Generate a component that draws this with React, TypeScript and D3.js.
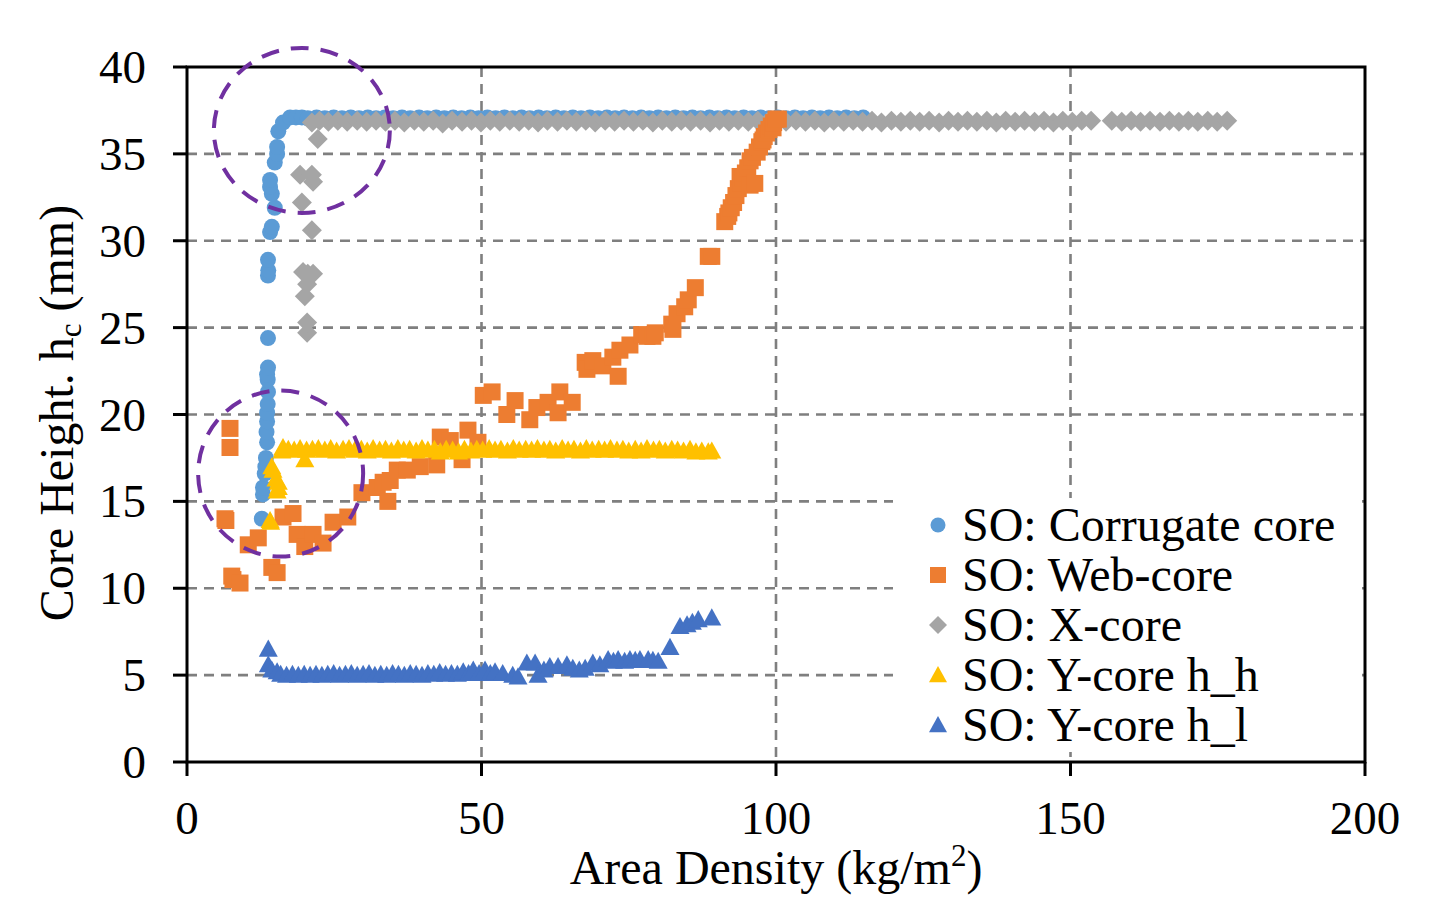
import React from "react";
import * as d3 from "d3";

const xTicks = [0, 50, 100, 150, 200];
const yTicks = [0, 5, 10, 15, 20, 25, 30, 35, 40];

const corrugate: [number, number][] = [
  [12.7,14.0],[12.9,15.4],[12.9,15.8],[13.2,16.6],[13.3,17.0],[13.4,17.5],[13.6,18.4],[13.5,19.0],[13.6,19.6],[13.6,20.1],
  [13.7,20.6],[13.75,21.3],[13.7,22.0],[13.6,22.3],[13.75,22.7],[13.75,24.4],[13.75,28.0],[13.8,28.3],[13.75,28.9],[14.1,30.5],
  [14.4,30.8],[14.9,31.9],[14.4,32.7],[14.1,33.1],[14.1,33.5],[14.9,34.5],[15.3,35.0],[15.3,35.4],[15.5,36.3],[16.3,36.8],
  [17.5,37.1],[18.5,37.1],[19.5,37.1],[20.5,37.05],[22,37.1],[23.4,37.05],[24.9,37.1],[26.3,37.05],[27.8,37.1],[29.2,37.05],
  [30.7,37.1],[32.1,37.05],[33.6,37.1],[35,37.05],[36.5,37.1],[37.9,37.05],[39.4,37.1],[40.8,37.05],[42.3,37.1],[43.7,37.05],
  [45.2,37.1],[46.6,37.05],[48.1,37.1],[49.5,37.05],[51,37.1],[52.4,37.05],[53.9,37.1],[55.3,37.05],[56.8,37.1],[58.2,37.05],
  [59.7,37.1],[61.1,37.05],[62.6,37.1],[64,37.05],[65.5,37.1],[66.9,37.05],[68.4,37.1],[69.8,37.05],[71.3,37.1],[72.7,37.05],
  [74.2,37.1],[75.6,37.05],[77.1,37.1],[78.5,37.05],[80,37.1],[81.4,37.05],[82.9,37.1],[84.3,37.05],[85.8,37.1],[87.2,37.05],
  [88.7,37.1],[90.1,37.05],[91.6,37.1],[93,37.05],[94.5,37.1],[95.9,37.05],[97.4,37.1],[98.8,37.05],[100.3,37.1],[101.7,37.05],
  [103.2,37.1],[104.6,37.05],[106.1,37.1],[107.5,37.05],[109,37.1],[110.4,37.05],[111.9,37.1],[113.3,37.05],[114.8,37.1]
];

const webCore: [number, number][] = [
  [7.3,19.2],[7.3,18.1],[6.45,14.0],[6.6,13.9],[7.8,10.5],[7.6,10.7],[9.0,10.3],[10.4,12.5],[12.1,12.9],[14.4,11.2],
  [15.3,10.9],[16.3,14.1],[18.0,14.3],[18.7,13.1],[20.0,12.4],[21.4,13.1],[23.1,12.6],[24.8,13.8],[27.3,14.1],[29.7,15.5],
  [32.3,15.8],[33.3,16.1],[34.1,15.0],[34.5,16.2],[35.7,16.8],[37.4,16.8],[39.6,17.0],[42.4,17.1],[43.0,18.7],[44.7,18.5],
  [46.7,17.4],[47.7,19.1],[49.4,18.4],[50.3,21.1],[51.8,21.3],[54.3,20.0],[55.7,20.8],[58.2,19.7],[59.4,20.4],[61.3,20.7],
  [63.0,20.1],[63.3,21.3],[65.4,20.7],[67.6,23.0],[67.9,22.6],[68.9,23.1],[70.6,22.8],[72.3,23.3],[73.2,22.2],[73.5,23.7],
  [75.2,24.0],[77.2,24.6],[78.1,24.5],[79.1,24.5],[79.5,24.7],[82.3,25.2],[82.5,24.9],[83.2,25.8],[84.5,26.2],[85.1,26.6],
  [86.3,27.3],[88.5,29.1],[89.1,29.1],[91.3,31.1],[91.8,31.4],[92.0,31.6],[92.4,31.9],[92.8,32.2],[93.2,32.6],[93.6,33.0],
  [93.9,33.7],[94.0,33.3],[94.4,33.6],[94.8,33.9],[95.2,34.2],[95.6,34.6],[95.6,33.2],[96.0,34.8],[96.4,33.3],[96.8,35.1],
  [97.2,35.4],[97.6,35.7],[97.8,35.8],[98.0,36.0],[98.4,36.2],[98.8,36.4],[99.2,36.6],[99.5,36.5],[99.6,36.8],[100.0,37.0],
  [100.4,37.0]
];

const xCore: [number, number][] = [
  [20.4,24.7],[20.4,25.3],[20.0,26.8],[20.4,27.5],[20.5,28.1],[21.4,28.1],[19.7,28.2],[21.2,30.6],[19.5,32.2],[21.4,33.4],
  [19.2,33.8],[21.2,33.8],[22.2,35.85],[21.2,36.8],[22.5,36.9],[24.0,36.85],[25.6,36.9],[27.2,36.85],[28.9,36.9],[30.5,36.85],
  [32.1,36.9],[33.7,36.85],[35.3,36.9],[36.9,36.8],[38.6,36.9],[40.2,36.85],[41.8,36.9],[43.4,36.75],[45.0,36.9],[46.7,36.85],
  [48.3,36.9],[49.9,36.8],[51.5,36.9],[53.1,36.85],[54.8,36.9],[56.4,36.85],[58.0,36.9],[59.6,36.8],[61.2,36.9],[62.9,36.85],
  [64.5,36.9],[66.1,36.85],[67.7,36.9],[69.3,36.8],[71.0,36.9],[72.6,36.85],[74.2,36.9],[75.8,36.85],[77.4,36.9],[79.1,36.8],
  [80.7,36.9],[82.3,36.85],[83.9,36.9],[85.5,36.85],[87.2,36.9],[88.8,36.8],[90.4,36.9],[92.0,36.85],[93.6,36.9],[95.3,36.85],
  [96.9,36.9],[98.5,36.8],[100.1,36.9],[101.7,36.85],[103.4,36.9],[105.0,36.85],[106.6,36.9],[108.2,36.8],[109.8,36.9],[111.5,36.85],
  [113.1,36.9],[114.7,36.85],[116.3,36.9],[117.9,36.8],[119.6,36.9],[121.2,36.85],[122.8,36.9],[124.4,36.85],[126.0,36.9],[127.7,36.8],
  [129.3,36.9],[130.9,36.85],[132.5,36.9],[134.1,36.85],[135.8,36.9],[137.4,36.8],[139.0,36.9],[140.6,36.85],[142.2,36.9],[143.9,36.85],
  [145.5,36.9],[147.1,36.8],[148.7,36.9],[150.3,36.85],[151.9,36.9],[153.5,36.9],[157.0,36.9],[158.7,36.85],[160.3,36.9],[161.9,36.85],
  [163.5,36.9],[165.2,36.85],[166.8,36.9],[168.4,36.85],[170.0,36.9],[171.6,36.85],[173.3,36.9],[174.9,36.85],[176.6,36.9]
];

const yCoreHH: [number, number][] = [
  [14.1,13.9],[14.2,13.8],[15.5,15.8],[15.3,15.6],[15.5,16.1],[15.1,16.3],[14.6,16.8],[14.4,17.0],[16.1,17.9],[16.3,18.1],
  [20.0,17.4],[17.2,18.0],[18.2,17.95],[19.2,18.05],[20.3,17.95],[21.3,18.0],[22.3,18.05],[23.4,17.95],[24.4,18.05],[25.4,17.9],
  [26.5,18.0],[27.5,18.05],[28.5,17.95],[29.6,18.0],[30.6,17.9],[31.6,18.05],[32.7,17.95],[33.7,18.0],[34.7,17.9],[35.8,18.05],
  [36.8,17.95],[37.8,18.0],[38.9,17.9],[39.9,18.05],[40.9,17.95],[42.0,18.0],[43.0,17.85],[44.0,18.0],[45.1,17.95],[46.1,17.85],
  [47.1,18.0],[48.2,17.9],[49.2,18.0],[50.2,17.95],[51.3,18.05],[52.3,17.95],[53.3,18.0],[54.4,17.9],[55.4,18.05],[56.4,17.95],
  [57.5,18.0],[58.5,17.95],[59.5,18.05],[60.6,17.95],[61.6,18.0],[62.6,17.9],[63.7,18.05],[64.7,17.95],[65.7,18.0],[66.8,17.9],
  [67.8,18.05],[68.8,17.95],[69.9,18.0],[70.9,17.95],[71.9,18.05],[73.0,17.95],[74.0,18.0],[75.0,17.9],[76.1,18.0],[77.1,17.9],
  [78.1,18.05],[79.2,17.95],[80.2,18.0],[81.2,17.9],[82.3,18.0],[83.3,17.95],[84.3,17.9],[85.4,18.0],[86.4,17.85],[87.4,17.9],
  [88.5,17.85],[89.1,17.9]
];

const yCoreHL: [number, number][] = [
  [13.8,6.5],[13.8,5.6],[14.4,5.3],[15.3,5.2],[15.9,5.05],[16.9,5.0],[17.9,5.05],[18.9,5.0],[19.9,5.05],[20.9,5.0],
  [21.9,5.05],[22.9,5.0],[23.9,5.05],[24.9,5.1],[25.9,5.0],[26.9,5.05],[27.9,5.1],[28.9,5.0],[29.9,5.05],[30.9,5.1],
  [31.9,5.0],[32.9,5.05],[33.9,5.0],[34.9,5.1],[35.9,5.05],[36.9,5.0],[37.9,5.1],[38.9,5.05],[39.9,5.0],[40.9,5.1],
  [41.9,5.05],[42.9,5.15],[43.9,5.05],[44.9,5.1],[45.9,5.05],[46.9,5.2],[47.8,5.1],[48.6,5.3],[49.6,5.1],[50.6,5.3],
  [51.5,5.1],[52.3,5.2],[53.6,5.1],[55.3,5.0],[56.2,4.9],[57.7,5.7],[59.1,5.7],[59.6,5.0],[60.6,5.3],[61.6,5.5],
  [63.0,5.5],[64.5,5.6],[65.5,5.4],[66.6,5.3],[67.6,5.4],[68.9,5.7],[70.1,5.6],[71.5,5.9],[72.4,5.8],[73.2,5.9],
  [74.3,5.8],[75.2,5.9],[76.1,5.85],[76.9,5.9],[78.3,5.9],[79.1,5.85],[80.0,5.8],[82.0,6.6],[83.7,7.8],[84.9,7.9],
  [85.8,8.05],[86.8,8.2],[89.1,8.3]
];

const seriesNames = ["SO: Corrugate core", "SO: Web-core", "SO: X-core", "SO: Y-core h_h", "SO: Y-core h_l"];
const seriesColors = ["#5B9BD5", "#ED7D31", "#A5A5A5", "#FFC000", "#4472C4"];

// annotation ellipses (data-space centres)
const highlights = [
  { cx: 19.5, cy: 36.35, rx: 88, ry: 82.5 },
  { cx: 15.9, cy: 16.6, rx: 82.5, ry: 83 },
];

const W = 1429, H = 901;
const L = 187, R = 1365, T = 67, B = 762;
const FONT = "'Liberation Serif', 'Times New Roman', serif";

type Shape = "circle" | "square" | "diamond" | "triangle";

function markerPath(shape: Shape, s: number): string {
  const h = s / 2;
  switch (shape) {
    case "circle":
      return `M${h},0A${h},${h} 0 1,1 ${-h},0A${h},${h} 0 1,1 ${h},0Z`;
    case "square":
      return `M${-h},${-h}H${h}V${h}H${-h}Z`;
    case "diamond":
      return `M0,${-h}L${h},0L0,${h}L${-h},0Z`;
    case "triangle":
      return `M0,${-h}L${h},${h * 0.8}L${-h},${h * 0.8}Z`;
  }
}

export default function App() {
  const x = d3.scaleLinear().domain([0, 200]).range([L, R]);
  const y = d3.scaleLinear().domain([0, 40]).range([B, T]);

  const layers: { data: [number, number][]; shape: Shape; size: number; color: string }[] = [
    { data: corrugate, shape: "circle", size: 16, color: seriesColors[0] },
    { data: xCore, shape: "diamond", size: 20, color: seriesColors[2] },
    { data: webCore, shape: "square", size: 17, color: seriesColors[1] },
    { data: yCoreHH, shape: "triangle", size: 19, color: seriesColors[3] },
    { data: yCoreHL, shape: "triangle", size: 19, color: seriesColors[4] },
  ];

  const legendShapes: Shape[] = ["circle", "square", "diamond", "triangle", "triangle"];
  const legendSizes = [15, 16, 18, 18, 18];

  return (
    <svg width={W} height={H} style={{ position: "absolute", left: 0, top: 0, background: "#fff" }} fontFamily={FONT}>
      <rect x={0} y={0} width={W} height={H} fill="#fff" />
      {/* gridlines */}
      {yTicks.filter((t) => t > 0 && t < 40).map((t) => (
        <line key={"gy" + t} x1={L} x2={R} y1={y(t)} y2={y(t)} stroke="#7F7F7F" strokeWidth={2.6} strokeDasharray="10,7" />
      ))}
      {xTicks.filter((t) => t > 0 && t < 200).map((t) => (
        <line key={"gx" + t} x1={x(t)} x2={x(t)} y1={T} y2={B} stroke="#7F7F7F" strokeWidth={2.6} strokeDasharray="10,7" />
      ))}
      {/* legend background */}
      <rect x={893} y={498} width={469} height={254} fill="#fff" />
      {/* data */}
      {layers.map((layer, i) => (
        <g key={"s" + i} fill={layer.color}>
          {layer.data.map((d, j) => (
            <path key={j} d={markerPath(layer.shape, layer.size)} transform={`translate(${x(d[0])},${y(d[1])})`} />
          ))}
        </g>
      ))}
      {/* frame */}
      <rect x={L} y={T} width={R - L} height={B - T} fill="none" stroke="#000" strokeWidth={3} />
      {/* ticks */}
      {yTicks.map((t) => (
        <g key={"yt" + t}>
          <line x1={L - 14} x2={L} y1={y(t)} y2={y(t)} stroke="#000" strokeWidth={3} />
          <text x={146} y={y(t) + 16} fontSize={47} textAnchor="end" fill="#000">{t}</text>
        </g>
      ))}
      {xTicks.map((t) => (
        <g key={"xt" + t}>
          <line x1={x(t)} x2={x(t)} y1={B} y2={B + 14} stroke="#000" strokeWidth={3} />
          <text x={x(t)} y={834} fontSize={47} textAnchor="middle" fill="#000">{t}</text>
        </g>
      ))}
      {/* axis titles */}
      <text x={776} y={884} fontSize={48} textAnchor="middle" fill="#000">
        Area Density (kg/m<tspan fontSize={31} dy={-18}>2</tspan><tspan dy={18}>)</tspan>
      </text>
      <text transform="translate(73,413) rotate(-90)" fontSize={48} textAnchor="middle" fill="#000">
        Core Height. h<tspan fontSize={31} dy={8}>c</tspan><tspan dy={-8}> (mm)</tspan>
      </text>
      {/* highlight ellipses */}
      {highlights.map((e, i) => (
        <ellipse key={"e" + i} cx={x(e.cx)} cy={y(e.cy)} rx={e.rx} ry={e.ry} fill="none" stroke="#7030A0" strokeWidth={4} strokeDasharray="18,12" />
      ))}
      {/* legend */}
      {seriesNames.map((name, i) => (
        <g key={"lg" + i} transform={`translate(0,${525 + i * 50})`}>
          <path d={markerPath(legendShapes[i], legendSizes[i])} transform="translate(938,0)" fill={seriesColors[i]} />
          <text x={962} y={16} fontSize={48} fill="#000">{name}</text>
        </g>
      ))}
    </svg>
  );
}
